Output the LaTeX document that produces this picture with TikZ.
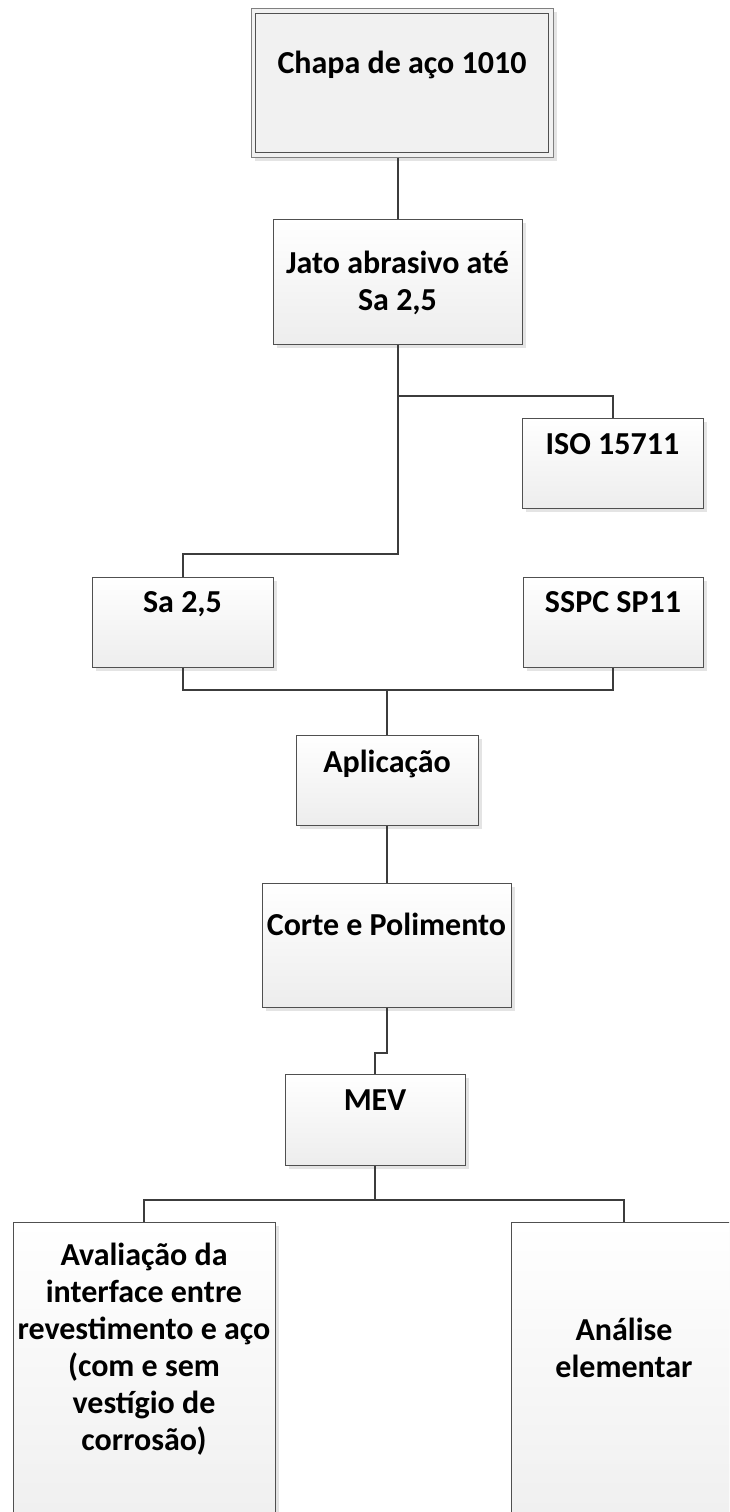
\documentclass[tikz,border=0pt]{standalone}
\usepackage{fontspec}
\setmainfont{Carlito}
\usetikzlibrary{shadows,fit}

\definecolor{edge}{HTML}{505050}
\definecolor{outeredge}{HTML}{808080}
\definecolor{wire}{HTML}{3C3C3C}
\definecolor{fillbot}{HTML}{EDEDED}
\definecolor{topfill}{HTML}{F1F1F1}
\definecolor{shade}{HTML}{E4E4E4}

\tikzset{
  box/.style={rectangle, draw=edge, line width=1pt, inner sep=0pt,
    top color=white, bottom color=fillbot,
    drop shadow={shadow xshift=3.5pt, shadow yshift=-3.5pt, fill=shade, opacity=1}},
  headbox/.style={rectangle, draw=outeredge, line width=1pt, inner sep=0pt,
    fill=topfill,
    drop shadow={shadow xshift=3.5pt, shadow yshift=-3.5pt, fill=shade, opacity=1}},
  conn/.style={draw=wire, line width=2pt},
  % multi-line labels are anchored on the baseline of their last line
  lbl/.style={font=\fontsize{32}{37}\selectfont\bfseries, align=center,
    anchor=base, inner sep=0pt},
}

\begin{document}
\begin{tikzpicture}[x=1pt,y=-1pt]
\useasboundingbox (0,0) rectangle (729,1512);
\clip (0,0) rectangle (729,1512);

% process boxes
\node[headbox, fit={(251,9) (553,157)}] (top) {};
\draw[edge, line width=1.2pt] ([shift={(5pt,-5pt)}]top.north west) rectangle ([shift={(-5pt,5pt)}]top.south east);
\node[box, fit={(273,219) (522,344)}] (jato) {};
\node[box, fit={(522,418) (703,508)}] (iso) {};
\node[box, fit={(92,577) (273,667)}] (sa) {};
\node[box, fit={(523,577) (703,667)}] (sspc) {};
\node[box, fit={(296,735) (478,825)}] (apl) {};
\node[box, fit={(262,883) (511,1007)}] (corte) {};
\node[box, fit={(285,1074) (465,1165)}] (mev) {};
\node[box, fit={(13,1222) (275,1570)}] (aval) {};
\node[box, fit={(511,1222) (737,1570)}] (anal) {};

% connectors
\draw[conn] (jato.north |- top.south) -- (jato.north);
\draw[conn] (jato.south) -- ++(0,209) -| (sa.north);
\draw[conn] (jato.south) ++(0,51) -| (iso.north);
\draw[conn] (sa.south) -- ++(0,22) -| (sspc.south);
\draw[conn] (apl.north) -- ++(0,-46);
\draw[conn] (apl.south) -- (apl.south |- corte.north);
\draw[conn] (corte.south) -- ++(0,45) -| (mev.north);
\draw[conn] (mev.south) -- ++(0,34) -| (aval.north);
\draw[conn] (mev.south) ++(0,34) -| (anal.north);

% labels
\node[lbl] (ttop) at (402,74) {Chapa de aço 1010};
\node[lbl] (tjato) at (397.5,310) {Jato abrasivo até\\Sa 2,5};
\node[lbl] (tiso) at (612.5,454) {ISO 15711};
\node[lbl] (tsa) at (182.5,612) {Sa 2,5};
\node[lbl] (tsspc) at (613,612) {SSPC SP11};
\node[lbl] (tapl) at (387,772) {Aplicação};
\node[lbl] (tcorte) at (386.5,935) {Corte e Polimento};
\node[lbl] (tmev) at (375,1110) {MEV};
\node[lbl] (taval) at (144,1450) {Avaliação da\\interface entre\\revestimento e aço\\(com e sem\\vestígio de\\corrosão)};
\node[lbl] (tanal) at (624,1377) {Análise\\elementar};
\end{tikzpicture}
\end{document}
